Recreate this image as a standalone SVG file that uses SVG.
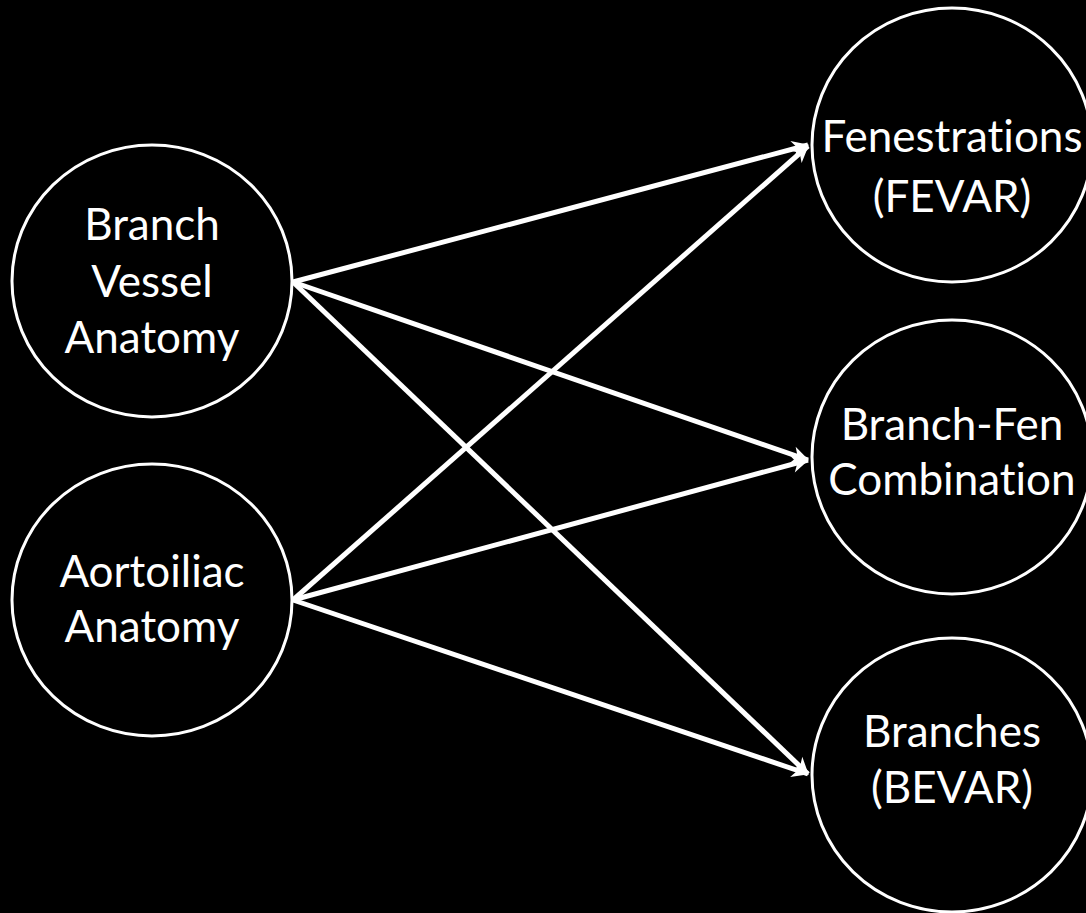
<svg xmlns="http://www.w3.org/2000/svg" width="1086" height="913" viewBox="0 0 1086 913">
<defs>
<style>
.node{fill:#000;stroke:#fff;stroke-width:3}
.lbl{fill:#fff;font-family:Lato,"Open Sans","Liberation Sans",sans-serif;font-size:44px;text-anchor:middle;font-variant-ligatures:none;font-feature-settings:"liga" 0}
.edge{stroke:#fff;stroke-width:5;fill:none;marker-end:url(#arr)}
</style>
<marker id="arr" markerUnits="userSpaceOnUse" viewBox="-18 -10 20 20" refX="0" refY="0" markerWidth="20" markerHeight="20" orient="auto">
<path d="M1,0 L-16,-8.5 L-11,0 L-16,8.5 Z" fill="#fff"/>
</marker>
</defs>
<rect width="1086" height="913" fill="#000"/>
<g id="connectors">
<line class="edge" x1="293" y1="282" x2="808" y2="145"/>
<line class="edge" x1="293" y1="282" x2="808" y2="460"/>
<line class="edge" x1="293" y1="282" x2="808" y2="774"/>
<line class="edge" x1="293" y1="600" x2="808" y2="146"/>
<line class="edge" x1="293" y1="600" x2="808" y2="460"/>
<line class="edge" x1="293" y1="600" x2="808" y2="774"/>
</g>
<g id="n-branch-vessel">
<ellipse class="node" cx="152" cy="281" rx="140" ry="136"/>
<text class="lbl" x="152" y="240">Branch</text>
<text class="lbl" x="152" y="297">Vessel</text>
<text class="lbl" x="152" y="353">Anatomy</text>
</g>
<g id="n-aortoiliac">
<ellipse class="node" cx="152" cy="600" rx="140" ry="136"/>
<text class="lbl" x="152" y="587">Aortoiliac</text>
<text class="lbl" x="152" y="642">Anatomy</text>
</g>
<g id="n-fevar">
<ellipse class="node" cx="952" cy="145" rx="140" ry="137"/>
<text class="lbl" x="952" y="152">Fenestrations</text>
<text class="lbl" x="952" y="212">(FEVAR)</text>
</g>
<g id="n-branch-fen">
<ellipse class="node" cx="952" cy="457" rx="140" ry="137"/>
<text class="lbl" x="952" y="440">Branch-Fen</text>
<text class="lbl" x="952" y="495">Combination</text>
</g>
<g id="n-bevar">
<ellipse class="node" cx="952" cy="775" rx="140" ry="137"/>
<text class="lbl" x="952" y="747">Branches</text>
<text class="lbl" x="952" y="803">(BEVAR)</text>
</g>
</svg>
